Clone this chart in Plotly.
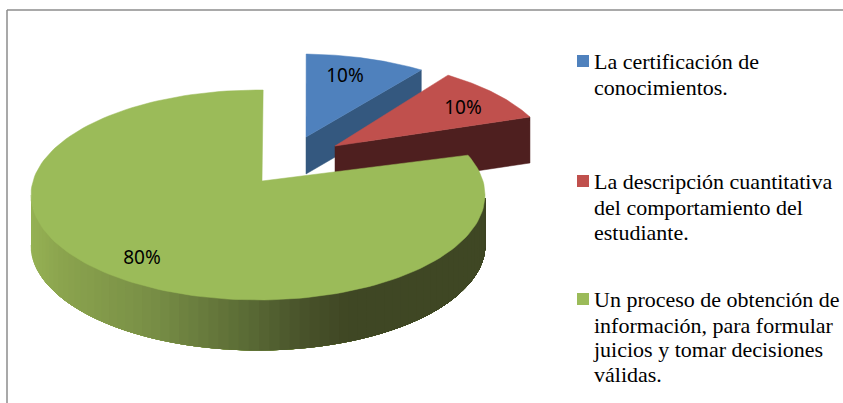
import numpy as np
import plotly.graph_objects as go

# ---------- data ----------
categories = ["La certificación de conocimientos.",
              "La descripción cuantitativa del comportamiento del estudiante.",
              "Un proceso de obtención de información, para formular juicios y tomar decisiones válidas."]
values = [10, 10, 80]
legend_lines = [["La certificación de", "conocimientos."],
                ["La descripción cuantitativa", "del comportamiento del", "estudiante."],
                ["Un proceso de obtención de", "información, para formular", "juicios y tomar decisiones", "válidas."]]

# ---------- drawing style ----------
W, H = 843, 403
TOP = ["#4f81bd", "#c0504d", "#9bbb59"]
WALL = ["#34587f", "#4e1f1f", "#3f4724"]
RX, RY = 227, 105
CENTER = [(301, 159), (327, 164), (258, 195)]     # explosion of each slice
APEX = [(306, 137), (335, 146), (262, 181)]
DEPTH = [37, 46, 50]
WARP = [(1.3, -4), (-4, -8.6), (-4.3, 1.3)]       # perspective correction of the start/end angle
LABEL_XY = [(345, 77), (463, 109), (142, 259)]
LEGEND_X, SWATCH = 594, 12
LEGEND_Y = [[63.5, 89], [183, 209, 234], [301, 327, 351, 376]]
SWATCH_Y = [61, 181, 299]
FONT_LEGEND = dict(family="Liberation Serif", size=22, color="#000000")
FONT_LABEL = dict(family="Noto Sans", size=19, color="#000000")

edges = 360 * np.cumsum([0] + values) / sum(values)


def rim(i, phi):
    cx, cy = CENTER[i]
    r = np.radians(phi)
    return cx + RX * np.sin(r), cy - RY * np.cos(r)


def poly(fig, x, y, color):
    fig.add_trace(go.Scatter(x=list(x), y=list(y), mode="lines", fill="toself", fillcolor=color,
                             line=dict(color=color, width=0.5), hoverinfo="skip", showlegend=False))


fig = go.Figure()

for i in range(len(values)):
    p0 = edges[i] + WARP[i][0]
    p1 = edges[i + 1] + WARP[i][1]
    phi = np.linspace(p0, p1, 160)
    rx, ry = rim(i, phi)
    ax, ay = APEX[i]
    d = DEPTH[i]
    if i < 2:
        # cut face of the small wedge, towards the viewer
        ex, ey = rim(i, p1)
        poly(fig, [ax, ex, ex, ax, ax], [ay, ey, ey + d, ay + d, ay], WALL[i])
    else:
        # outer wall of the big slice, shaded from left to right; each band runs
        # through to the right end and is painted over by the next, leaving no seams
        stops_x = [30, 60, 150, 250, 300, 345, 485]
        stops_c = np.array([[150, 178, 84], [139, 164, 78], [120, 142, 70], [88, 104, 52],
                            [72, 82, 42], [63, 71, 36], [63, 71, 36]], float)
        grid = np.linspace(270, 92, 70)
        for a in grid[:-1]:
            seg = np.linspace(a, 92, 50)
            sx, sy = rim(i, seg)
            c = [int(np.interp(sx[0], stops_x, stops_c[:, k])) for k in range(3)]
            poly(fig, list(sx) + list(sx[::-1]), list(sy) + list((sy + d)[::-1]), f"rgb({c[0]},{c[1]},{c[2]})")
    poly(fig, [ax] + list(rx) + [ax], [ay] + list(ry) + [ay], TOP[i])

# percentage labels
fig.add_trace(go.Scatter(x=[p[0] for p in LABEL_XY], y=[p[1] for p in LABEL_XY], mode="text",
                         text=[f"{v}%" for v in values], textposition="middle center",
                         textfont=FONT_LABEL, hoverinfo="skip", showlegend=False))

# legend
for i, lines in enumerate(legend_lines):
    fig.add_trace(go.Scatter(x=[LEGEND_X] * len(lines), y=LEGEND_Y[i], mode="text", text=lines,
                             textposition="middle right", textfont=FONT_LEGEND, cliponaxis=False,
                             hoverinfo="skip", showlegend=False))
    y0 = SWATCH_Y[i]
    fig.add_shape(type="rect", x0=577, x1=577 + SWATCH, y0=y0 - SWATCH / 2, y1=y0 + SWATCH / 2,
                  fillcolor=TOP[i], line_width=0, layer="above")

# chart frame
frame = dict(color="#8c8c8c", width=1.5)
fig.add_shape(type="line", x0=7, x1=7, y0=10, y1=H, line=frame, layer="below")
fig.add_shape(type="line", x0=7, x1=W, y0=10, y1=10, line=frame, layer="below")

fig.update_layout(width=W, height=H, margin=dict(l=0, r=0, t=0, b=0), showlegend=False,
                  paper_bgcolor="white", plot_bgcolor="white",
                  xaxis=dict(range=[0, W], visible=False, fixedrange=True),
                  yaxis=dict(range=[H, 0], visible=False, fixedrange=True))

fig.write_html("out.html", config=dict(displayModeBar=False),
               post_script="document.body.style.margin='0';document.body.style.overflow='hidden';")
